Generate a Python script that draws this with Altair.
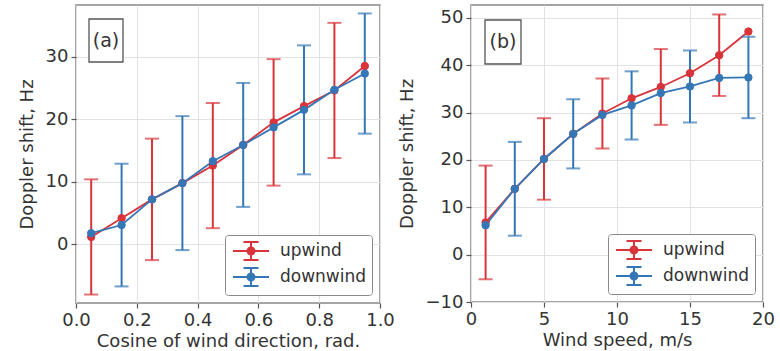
import altair as alt
import pandas as pd

# ---- Panel (a): Doppler shift against cosine of wind direction ----
cos_dir = [0.05, 0.15, 0.25, 0.35, 0.45, 0.55, 0.65, 0.75, 0.85, 0.95]
up_a = [1.2, 4.2, 7.2, 9.8, 12.6, 15.9, 19.5, 22.1, 24.6, 28.5]
down_a = [1.8, 3.1, 7.2, 9.8, 13.3, 15.9, 18.7, 21.5, 24.7, 27.3]
up_a_err = [9.2, None, 9.7, None, 10.0, None, 10.1, None, 10.8, None]
down_a_err = [None, 9.8, None, 10.7, None, 9.9, None, 10.3, None, 9.6]

# ---- Panel (b): Doppler shift against wind speed ----
speed = [1, 3, 5, 7, 9, 11, 13, 15, 17, 19]
up_b = [6.8, 13.9, 20.2, 25.5, 29.8, 33.0, 35.4, 38.3, 42.1, 47.1]
down_b = [6.2, 13.9, 20.2, 25.5, 29.5, 31.5, 34.1, 35.5, 37.3, 37.4]
up_b_err = [12.0, None, 8.6, None, 7.4, None, 8.0, None, 8.6, None]
down_b_err = [None, 9.9, None, 7.3, None, 7.2, None, 7.6, None, 8.6]

SERIES = ["upwind", "downwind"]
COLORS = ["#d8343a", "#3476b6"]
FONT = "DejaVu Sans"
TEXT = "#333333"

# errorbar-style legend glyph: horizontal line, capped vertical bar, dot
ERR_SYMBOL = ("M-1.8,0H1.8M0,-0.9V0.9M-0.75,-0.9H0.75M-0.75,0.9H0.75"
              "M-0.35,0A0.35 0.35 0 1 0 0.35,0A0.35 0.35 0 1 0 -0.35,0Z")


def long_table(x, up, down, up_err, down_err):
    rows = []
    for name, ys, es in (("upwind", up, up_err), ("downwind", down, down_err)):
        for xv, yv, ev in zip(x, ys, es):
            rows.append({
                "x": xv, "y": yv, "series": name,
                "lo": None if ev is None else yv - ev,
                "hi": None if ev is None else yv + ev,
            })
    return pd.DataFrame(rows)


def panel(df, xdom, ydom, xticks, yticks, xfmt, xtitle, tag, width, height,
          tag_box):
    xenc = alt.X("x:Q", scale=alt.Scale(domain=xdom, nice=False, zero=False),
                 axis=alt.Axis(values=xticks, format=xfmt, title=xtitle,
                               labelFlush=False, titlePadding=3))
    yenc = alt.Y("y:Q", scale=alt.Scale(domain=ydom, nice=False, zero=False),
                 axis=alt.Axis(values=yticks, format="d",
                               title="Doppler shift, Hz", titlePadding=9))
    layers = []
    for name, col in zip(SERIES, COLORS):
        sub = df[df.series == name]
        bars = sub.dropna(subset=["lo", "hi"])
        base_bar = alt.Chart(bars)
        layers.append(base_bar.mark_rule(color=col, strokeWidth=2).encode(
            x="x:Q", y=alt.Y("lo:Q"), y2="hi:Q"))
        layers.append(base_bar.mark_tick(color=col, orient="horizontal",
                                         size=14, thickness=2).encode(
            x="x:Q", y="lo:Q"))
        layers.append(base_bar.mark_tick(color=col, orient="horizontal",
                                         size=14, thickness=2).encode(
            x="x:Q", y="hi:Q"))
        layers.append(alt.Chart(sub).mark_line(color=col, strokeWidth=1.8).encode(
            x=xenc, y=yenc, order="x:Q"))

    legend = alt.Legend(
        title=None, orient="bottom-right", offset=8,
        symbolType=ERR_SYMBOL, symbolSize=400, symbolStrokeWidth=2,
        symbolOpacity=1, symbolOffset=10,
        labelFont=FONT, labelFontSize=17, labelColor=TEXT, labelOffset=18,
        padding=5, rowPadding=0, strokeColor="#8a8a8a", fillColor="white",
        cornerRadius=3)
    cscale = alt.Scale(domain=SERIES, range=COLORS)
    layers.append(alt.Chart(df).mark_point(filled=True, size=55, opacity=1,
                                           strokeWidth=1).encode(
        x="x:Q", y="y:Q",
        fill=alt.Fill("series:N", scale=cscale, legend=legend),
        stroke=alt.Stroke("series:N", scale=cscale, legend=legend)))

    x0, x1, y0, y1 = tag_box
    tag_df = pd.DataFrame({"label": [tag]})
    layers.append(alt.Chart(tag_df).mark_rect(
        fill="white", stroke="#555555", strokeWidth=1.3).encode(
        x=alt.value(x0), x2=alt.value(x1), y=alt.value(y0), y2=alt.value(y1)))
    layers.append(alt.Chart(tag_df).mark_text(
        font=FONT, fontSize=19, color=TEXT, align="center",
        baseline="middle").encode(
        x=alt.value((x0 + x1) / 2), y=alt.value((y0 + y1) / 2),
        text="label:N"))

    return alt.layer(*layers).properties(width=width, height=height)


df_a = long_table(cos_dir, up_a, down_a, up_a_err, down_a_err)
df_b = long_table(speed, up_b, down_b, up_b_err, down_b_err)

left = panel(df_a, [0, 1], [-9.35, 38.25], [0, 0.2, 0.4, 0.6, 0.8, 1.0],
             [0, 10, 20, 30], ".1f", "Cosine of wind direction, rad.", "(a)",
             304, 298, (13, 47, 14, 57))
right = panel(df_b, [0, 20], [-10, 52.7], [0, 5, 10, 15, 20],
              [-10, 0, 10, 20, 30, 40, 50], "d", "Wind speed, m/s", "(b)",
              292, 297, (14, 50, 15, 59))

chart = alt.hconcat(left, right, spacing=1).resolve_scale(
    fill="independent", stroke="independent", x="independent",
    y="independent").resolve_legend(
    fill="independent", stroke="independent").properties(
    padding={"left": 17, "top": 4, "right": 0, "bottom": 0}
).configure(font=FONT).configure_view(
    stroke="#888888", strokeWidth=1.5
).configure_axis(
    domain=False, grid=True, gridColor="#e2e2e2", gridWidth=1,
    tickColor="#555555", tickSize=5, tickWidth=1.2, labelPadding=3,
    labelFont=FONT, labelFontSize=18, labelColor=TEXT,
    titleFont=FONT, titleFontSize=18, titleFontWeight="normal",
    titleColor=TEXT
)

chart.save("out.html", embed_options={"renderer": "svg", "actions": False})
